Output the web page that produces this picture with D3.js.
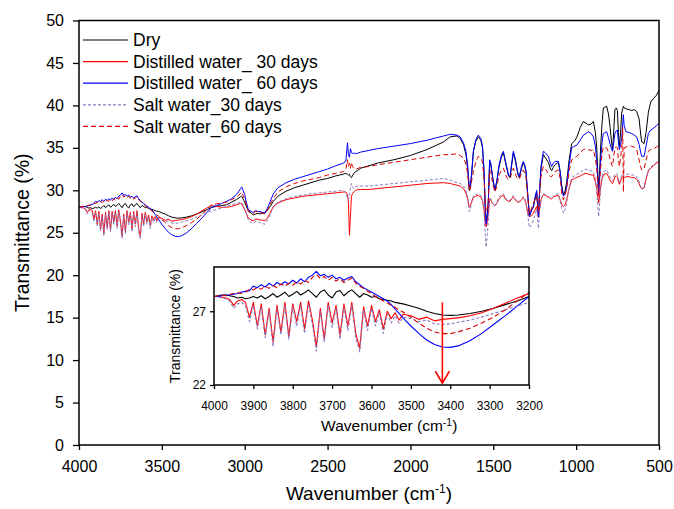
<!DOCTYPE html>
<html><head><meta charset="utf-8">
<script src="https://cdn.jsdelivr.net/npm/d3@7"></script>
<style>html,body{margin:0;padding:0;background:#fff;overflow:hidden}svg{display:block}</style>
</head><body><svg id="c" width="674" height="509"></svg>
<script>
// ---------- DATA ----------
const wavenumbers = [
 4000,3990,3980,3970,3960,3950,3940,3930,3920,3910,
 3900,3890,3880,3870,3860,3850,3840,3830,3820,3810,
 3800,3790,3780,3770,3760,3750,3740,3730,3720,3710,
 3700,3690,3680,3670,3660,3650,3640,3630,3620,3610,
 3600,3590,3580,3570,3560,3550,3540,3530,3520,
 3500,3480,3460,3440,3420,3400,3380,3350,3320,3290,3260,3230,3200,
 3170,3140,3109,3080,3050,3035,3025,3018,3010,3000,
 2990,2978,2960,2948,2935,2920,2908,2895,2878,2865,
 2850,2827,2800,2750,2700,2650,2600,2550,2500,2450,
 2405,2390,2380,2374,2368,2362,2356,2350,2342,2330,
 2315,2300,2250,2200,2100,2000,1900,1800,
 1760,1720,1700,1680,1665,1655,1645,1638,1630,1620,
 1605,1590,1575,1565,1556,1548,1543,1536,1530,1522,
 1515,1504,1490,1478,1465,1450,1439,1428,1419,1408,
 1399,1390,1379,1368,1359,1350,1343,1330,1319,1310,
 1303,1292,1282,1270,1258,1246,1238,1232,1227,1220,
 1212,1198,1185,1168,1155,1148,1138,1128,1107,1095,
 1087,1077,1067,1057,1042,1027,1010,997,975,957,
 940,926,910,896,884,876,868,864,858,852,
 844,836,816,805,796,786,780,772,766,758,
 751,745,739,732,725,719,715,710,699,680,
 665,650,635,620,610,604,590,578,564,550,
 534,515,500
];

const dry = [
 28.0,28.05,28.1,28.1,28.05,28.0,27.9,27.95,27.85,27.9,
 28.0,27.9,28.05,27.85,28.0,28.2,27.95,28.1,28.3,28.0,
 28.15,28.35,28.1,28.25,28.45,28.2,27.95,28.3,28.45,28.1,
 27.9,28.3,28.4,28.05,28.3,28.45,28.2,27.95,28.2,28.1,
 27.95,28.0,27.85,27.8,27.75,27.7,27.6,27.55,27.5,
 27.35,27.2,27.0,26.85,26.75,26.72,26.75,26.85,27.0,27.2,27.45,27.7,28.0,
 28.1,28.2,28.3,28.6,28.9,29.1,29.25,29.3,29.0,28.6,
 28.1,27.6,27.3,27.1,27.2,27.3,27.2,27.3,27.4,27.6,
 28.0,28.7,29.3,29.9,30.3,30.6,30.9,31.2,31.4,31.7,
 31.9,32.0,31.9,31.8,31.9,31.6,31.5,31.7,32.0,32.2,
 32.4,32.6,32.9,33.2,33.6,34.1,34.8,35.7,
 36.3,36.4,36.1,35.4,34.2,32.6,30.0,30.3,32.0,34.6,
 35.8,36.3,35.9,35.0,32.2,27.8,26.4,27.2,28.8,33.4,
 33.0,31.5,30.0,31.1,32.8,34.0,34.4,33.4,32.6,31.7,
 31.5,32.8,34.4,33.6,32.6,31.8,31.5,32.6,33.2,32.8,
 32.2,29.4,27.0,27.6,28.0,29.2,29.8,28.1,27.1,30.0,
 32.5,34.2,33.8,33.3,32.5,32.3,32.7,33.0,33.3,32.0,
 30.5,29.5,29.9,31.0,33.6,35.5,35.8,36.2,37.4,38.1,
 37.9,37.7,37.8,38.1,36.8,35.1,31.6,30.4,32.4,35.1,
 37.8,39.7,39.9,39.0,37.6,35.6,34.8,37.4,39.5,39.7,
 39.4,36.8,35.1,36.8,39.1,39.6,39.9,39.7,39.6,39.5,
 39.4,39.5,39.3,38.4,36.5,35.7,35.5,36.8,39.2,40.4,
 40.8,41.2,41.8
];

const distilled30 = [
 28.0,28.0,27.95,27.9,27.8,27.4,27.7,27.8,27.6,26.6,
 27.6,26.0,27.5,25.4,27.2,24.9,27.4,25.6,27.6,25.3,
 27.5,26.3,27.6,25.8,27.7,26.4,24.6,27.2,25.1,27.6,
 26.2,27.4,25.4,27.5,26.0,27.6,25.5,24.5,27.3,26.0,
 27.4,26.3,27.1,25.8,27.0,26.5,26.9,26.4,26.8,
 26.7,26.45,26.6,26.35,26.45,26.5,26.55,26.7,26.9,27.2,27.55,27.9,28.2,
 28.1,28.0,28.0,28.1,28.3,28.4,28.45,28.4,28.1,27.7,
 27.3,26.7,26.5,26.4,26.6,26.6,26.5,26.5,26.4,26.7,
 27.2,28.1,28.5,28.9,29.1,29.3,29.4,29.5,29.6,29.7,
 29.8,29.8,29.5,28.6,24.7,27.0,29.3,29.6,29.8,30.0,
 30.1,30.1,30.1,30.2,30.4,30.6,30.8,30.9,
 30.8,30.6,30.5,30.2,29.7,29.0,28.0,28.2,28.7,29.2,
 29.3,29.4,29.2,28.8,27.8,26.0,25.7,26.3,27.2,29.0,
 28.8,28.4,28.2,28.5,29.0,29.3,29.4,29.0,28.8,28.7,
 28.7,29.0,29.2,28.9,28.7,28.6,28.6,28.9,29.1,28.9,
 28.5,27.4,26.9,27.0,27.3,27.8,28.1,27.3,26.8,27.9,
 28.9,29.5,29.4,29.2,29.0,29.0,29.2,29.3,29.4,28.8,
 28.3,28.1,28.3,28.9,30.3,31.2,31.4,31.5,31.7,31.9,
 32.0,31.9,31.8,31.8,31.0,30.2,29.0,28.5,29.4,30.4,
 31.3,31.8,32.0,31.6,31.2,30.9,30.8,31.2,31.6,31.7,
 31.6,31.0,30.7,31.1,31.5,31.6,31.4,31.5,31.6,31.6,
 31.5,31.5,31.3,30.8,30.3,30.2,30.3,31.3,32.3,32.6,
 32.9,33.2,33.4
];

const distilled60 = [
 28.0,28.0,28.05,28.1,28.1,28.15,28.2,28.3,28.35,28.4,
 28.7,28.6,28.8,28.65,28.9,28.7,28.95,28.8,29.0,28.85,
 29.1,28.9,29.2,29.0,29.3,29.45,29.7,29.4,29.5,29.3,
 29.45,29.2,29.3,29.1,29.25,29.35,29.0,28.8,28.6,28.45,
 28.3,28.15,28.0,27.85,27.7,27.45,27.15,26.85,26.55,
 26.0,25.5,25.05,24.75,24.58,24.55,24.65,25.0,25.5,26.1,26.7,27.35,28.0,
 28.2,28.45,28.7,29.0,29.5,29.9,30.2,30.4,30.0,29.5,
 28.6,27.7,27.5,27.4,27.6,27.5,27.5,27.4,27.3,27.8,
 28.5,29.6,30.3,30.9,31.3,31.6,31.9,32.2,32.5,32.9,
 33.2,33.4,35.6,34.2,33.9,34.9,34.5,34.3,34.4,34.3,
 34.4,34.5,34.7,34.9,35.2,35.5,35.9,36.4,
 36.6,36.5,36.3,35.6,34.6,33.0,30.4,30.6,32.2,34.6,
 36.0,36.5,36.1,35.2,32.4,27.5,26.0,27.0,28.6,33.6,
 33.2,31.6,30.0,31.2,33.0,34.2,34.6,33.6,32.8,31.8,
 31.6,33.0,34.6,33.8,32.8,31.9,31.6,32.8,33.4,33.0,
 32.4,29.5,26.9,27.6,28.1,29.4,30.0,28.0,26.9,30.2,
 32.8,34.6,34.4,34.0,33.2,32.8,33.2,33.4,33.4,32.0,
 30.4,29.3,29.6,30.4,33.0,35.0,35.2,35.3,35.9,36.5,
 36.7,36.9,36.7,36.3,35.2,33.6,30.8,29.6,31.5,33.6,
 35.6,36.7,36.9,36.2,35.5,34.8,34.6,35.8,36.7,37.0,
 37.1,35.8,34.8,35.4,36.1,37.8,38.9,37.6,36.9,36.8,
 36.7,36.5,36.3,35.4,34.4,34.0,34.0,35.2,36.7,37.1,
 37.3,37.6,37.9
];

const salt30 = [
 28.0,27.95,27.9,27.85,27.7,27.2,27.5,27.6,27.4,26.3,
 27.4,25.8,27.3,25.2,27.0,24.6,27.2,25.4,27.4,25.1,
 27.3,26.0,27.4,25.5,27.5,26.1,24.3,27.0,24.9,27.4,
 25.9,27.2,25.1,27.3,25.7,27.4,25.2,24.25,27.1,25.7,
 27.2,26.0,26.9,25.5,26.8,26.2,26.7,26.2,26.6,
 26.5,26.3,26.4,26.15,26.1,26.15,26.25,26.4,26.6,26.85,27.1,27.35,27.6,
 27.75,27.9,28.1,28.3,28.45,28.5,28.6,28.55,28.3,27.8,
 27.2,26.5,26.2,26.1,26.3,26.3,26.2,26.1,26.0,26.4,
 27.0,28.0,28.6,29.0,29.3,29.4,29.6,29.7,29.8,29.9,
 30.0,29.7,29.1,28.9,29.4,30.3,30.8,30.4,30.2,30.4,
 30.5,30.5,30.5,30.6,30.8,31.0,31.2,31.4,
 31.2,30.9,30.8,30.5,30.0,29.2,27.5,27.8,28.6,29.3,
 29.5,29.6,29.4,28.9,27.6,24.6,23.3,24.8,26.4,29.2,
 29.0,28.5,28.1,28.6,29.2,29.5,29.6,29.2,28.9,28.8,
 28.8,29.1,29.4,29.0,28.8,28.7,28.7,29.0,29.3,29.0,
 28.6,27.0,25.6,25.9,26.5,27.3,27.8,26.4,25.5,27.6,
 28.9,29.6,29.5,29.3,29.1,29.1,29.3,29.5,29.6,28.6,
 27.9,27.3,27.7,28.6,30.4,31.5,31.7,31.9,32.1,32.4,
 32.5,32.4,32.3,32.2,31.3,30.0,27.8,26.9,28.5,30.3,
 31.6,32.2,32.4,32.0,31.6,31.2,31.1,31.6,31.9,32.0,
 31.9,31.3,30.9,31.4,31.8,31.8,31.6,31.8,31.9,31.9,
 31.8,31.8,31.6,31.0,30.4,30.1,30.3,31.4,32.4,32.7,
 33.0,33.3,33.6
];

const salt60 = [
 28.0,28.05,28.1,28.05,28.15,28.2,28.25,28.2,28.3,28.5,
 28.45,28.6,28.5,28.7,28.55,28.75,28.6,28.85,28.7,28.9,
 28.75,29.0,28.85,29.1,28.95,29.3,29.5,29.2,29.35,29.1,
 29.3,29.05,29.2,28.95,29.1,29.25,28.9,28.7,28.55,28.35,
 28.2,28.0,27.85,27.7,27.55,27.4,27.25,27.1,26.95,
 26.6,26.2,25.85,25.6,25.48,25.48,25.6,25.85,26.2,26.6,27.1,27.7,28.3,
 28.4,28.5,28.6,28.9,29.2,29.45,29.6,29.8,29.4,29.0,
 28.3,27.5,27.3,27.3,27.5,27.5,27.4,27.3,27.2,27.6,
 28.2,29.05,29.8,30.4,30.8,31.1,31.3,31.5,31.8,32.0,
 32.2,32.4,33.6,32.8,33.2,32.6,33.3,32.8,32.6,32.5,
 32.6,32.7,32.8,33.0,33.3,33.6,33.9,34.2,
 34.2,34.3,34.1,33.8,33.1,32.0,29.9,30.2,31.2,32.2,
 33.4,34.0,33.8,33.3,31.5,28.3,27.4,27.9,28.8,32.4,
 32.2,30.8,29.8,30.5,31.8,32.4,32.6,32.0,31.5,31.3,
 31.3,32.0,32.6,32.0,31.5,31.3,31.3,32.0,32.4,32.0,
 31.6,29.2,27.3,27.8,28.5,29.0,29.3,28.0,27.5,29.8,
 31.6,32.8,32.5,32.0,31.6,31.6,31.9,32.2,32.4,31.2,
 29.6,28.9,29.3,30.3,32.3,33.6,33.8,34.0,34.4,34.8,
 34.9,34.8,34.7,34.75,33.8,32.6,30.2,29.3,31.0,32.6,
 34.2,35.1,35.0,34.5,33.8,33.0,32.8,34.2,35.0,35.1,
 35.0,33.6,32.8,33.8,35.0,37.4,29.8,35.0,35.1,35.2,
 35.2,35.1,34.8,33.6,32.7,32.4,32.5,33.6,34.6,34.8,
 34.9,35.1,35.3
];

const seriesNames = ["Dry","Distilled water_ 30 days","Distilled water_ 60 days","Salt water_30 days","Salt water_60 days"];
const mainXTicks = [4000,3500,3000,2500,2000,1500,1000,500];
const mainYTicks = [0,5,10,15,20,25,30,35,40,45,50];
const insetXTicks = [4000,3900,3800,3700,3600,3500,3400,3300,3200];
const insetYTicks = [22,27];
const arrowWavenumber = 3420;
const arrowTop = 27.6, arrowBottom = 22.12;

// ---------- DRAW ----------
const FONT = "'Liberation Sans', Arial, Helvetica, sans-serif";
const svg = d3.select("#c");
svg.append("rect").attr("width",674).attr("height",509).attr("fill","#fff");
const defs = svg.append("defs");

const styles = [
  {color:"#000000", dash:null},
  {color:"#ff0000", dash:null},
  {color:"#0000ff", dash:null},
  {color:"#8a78bd", dash:"3,2"},
  {color:"#d80000", dash:"5,3"}
];
const seriesValues = [dry, distilled30, distilled60, salt30, salt60];
const series = seriesNames.map((n,i)=>({name:n, values:seriesValues[i], ...styles[i]}));

// main plot
const M = {l:79, r:659, t:20.5, b:445};
const x = d3.scaleLinear().domain([4000,500]).range([M.l,M.r]);
const y = d3.scaleLinear().domain([0,50]).range([M.b,M.t]);

defs.append("clipPath").attr("id","clipMain").append("rect")
  .attr("x",M.l).attr("y",M.t).attr("width",M.r-M.l).attr("height",M.b-M.t);

const gLines = svg.append("g").attr("clip-path","url(#clipMain)");
series.forEach(s=>{
  const pts = wavenumbers.map((w,i)=>[w,s.values[i]]);
  const line = d3.line().x(d=>x(d[0])).y(d=>y(d[1]));
  gLines.append("path").attr("d",line(pts)).attr("fill","none")
    .attr("stroke",s.color).attr("stroke-width",1)
    .attr("stroke-dasharray",s.dash).attr("stroke-linejoin","round");
});

function styleAxis(g,size){
  g.attr("font-family",FONT).attr("font-size",size);
  g.select(".domain").remove();
  g.selectAll(".tick line").attr("stroke","#000").attr("stroke-width",1.3);
  g.selectAll(".tick text").attr("fill","#000");
}
svg.append("g").attr("transform",`translate(${M.l},0)`)
  .call(d3.axisLeft(y).tickValues(mainYTicks).tickSize(6).tickPadding(9).tickFormat(d3.format("d")))
  .call(g=>styleAxis(g,16));
svg.append("g").attr("transform",`translate(0,${M.b})`)
  .call(d3.axisBottom(x).tickValues(mainXTicks).tickSize(5).tickPadding(11).tickFormat(d3.format("d")))
  .call(g=>styleAxis(g,16));
svg.append("rect").attr("x",M.l).attr("y",M.t).attr("width",M.r-M.l).attr("height",M.b-M.t)
  .attr("fill","none").attr("stroke","#000").attr("stroke-width",1.5);

// axis titles
svg.append("text").attr("transform",`translate(29,${(M.t+M.b)/2}) rotate(-90)`)
  .attr("text-anchor","middle").attr("font-family",FONT).attr("font-size",19.5).text("Transmittance (%)");
const xt = svg.append("text").attr("x",(M.l+M.r)/2).attr("y",500).attr("text-anchor","middle")
  .attr("font-family",FONT).attr("font-size",19);
xt.append("tspan").text("Wavenumber (cm");
xt.append("tspan").attr("font-size",12).attr("dy",-7).text("-1");
xt.append("tspan").attr("dy",7).text(")");

// legend
const lg = svg.append("g").attr("font-family",FONT).attr("font-size",17.5);
series.forEach((s,i)=>{
  const yy = 40 + i*21.6;
  lg.append("line").attr("x1",83).attr("x2",128).attr("y1",yy).attr("y2",yy)
    .attr("stroke",s.color).attr("stroke-width",1.2).attr("stroke-dasharray",s.dash);
  lg.append("text").attr("x",133).attr("y",yy).attr("dy","0.35em").text(s.name);
});

// inset
const I = {l:214, r:529, t:267, b:385};
const xi = d3.scaleLinear().domain([4000,3200]).range([I.l,I.r]);
const yi = d3.scaleLinear().domain([22,30]).range([I.b,I.t]);
svg.append("rect").attr("x",I.l).attr("y",I.t).attr("width",I.r-I.l).attr("height",I.b-I.t).attr("fill","#fff");
defs.append("clipPath").attr("id","clipInset").append("rect")
  .attr("x",I.l).attr("y",I.t).attr("width",I.r-I.l).attr("height",I.b-I.t);
const gi = svg.append("g").attr("clip-path","url(#clipInset)");
series.forEach(s=>{
  const pts = wavenumbers.map((w,i)=>[w,s.values[i]]).filter(d=>d[0]>=3190);
  const line = d3.line().x(d=>xi(d[0])).y(d=>yi(d[1]));
  gi.append("path").attr("d",line(pts)).attr("fill","none")
    .attr("stroke",s.color).attr("stroke-width",1.1)
    .attr("stroke-dasharray",s.dash).attr("stroke-linejoin","round");
});
// arrow
const ax = xi(arrowWavenumber);
const ga = svg.append("g").attr("stroke","#ff0000").attr("stroke-width",1.6).attr("fill","none");
ga.append("line").attr("x1",ax).attr("x2",ax).attr("y1",yi(arrowTop)).attr("y2",yi(arrowBottom));
ga.append("polyline").attr("points",`${ax-7},${yi(arrowBottom)-12} ${ax},${yi(arrowBottom)} ${ax+7},${yi(arrowBottom)-12}`);

svg.append("g").attr("transform",`translate(${I.l},0)`)
  .call(d3.axisLeft(yi).tickValues(insetYTicks).tickSize(4).tickPadding(4).tickFormat(d3.format("d")))
  .call(g=>styleAxis(g,12));
svg.append("g").attr("transform",`translate(0,${I.b})`)
  .call(d3.axisBottom(xi).tickValues(insetXTicks).tickSize(4).tickPadding(12).tickFormat(d3.format("d")))
  .call(g=>styleAxis(g,12));
svg.append("rect").attr("x",I.l).attr("y",I.t).attr("width",I.r-I.l).attr("height",I.b-I.t)
  .attr("fill","none").attr("stroke","#000").attr("stroke-width",1.5);
svg.append("text").attr("transform",`translate(180,${(I.t+I.b)/2}) rotate(-90)`)
  .attr("text-anchor","middle").attr("font-family",FONT).attr("font-size",14).text("Transmittance (%)");
const xti = svg.append("text").attr("x",xi(3555)).attr("y",431).attr("text-anchor","middle")
  .attr("font-family",FONT).attr("font-size",15.5);
xti.append("tspan").text("Wavenumber (cm");
xti.append("tspan").attr("font-size",10.5).attr("dy",-5).text("-1");
xti.append("tspan").attr("dy",5).text(")");
</script>
</body></html>
